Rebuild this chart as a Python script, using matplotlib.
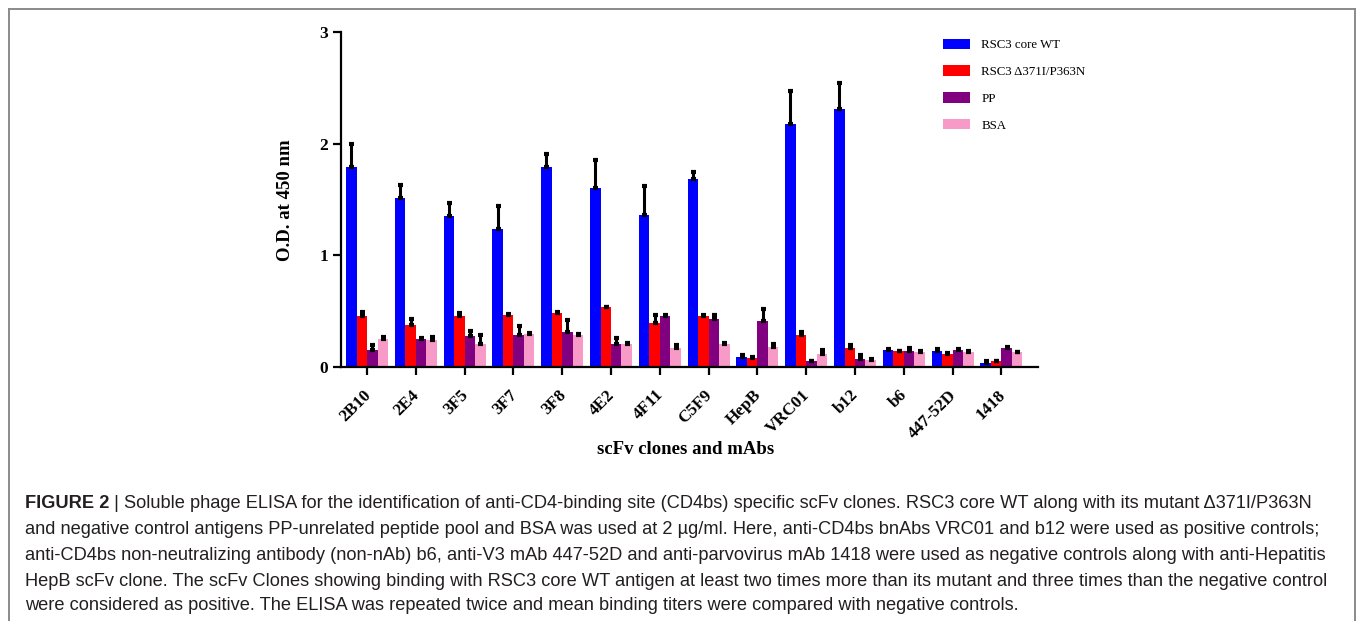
import matplotlib
matplotlib.use("Agg")
import matplotlib.pyplot as plt
import numpy as np
from matplotlib.lines import Line2D
from matplotlib.patches import Patch
import matplotlib.transforms as mtransforms

categories = ["2B10", "2E4", "3F5", "3F7", "3F8", "4E2", "4F11", "C5F9",
              "HepB", "VRC01", "b12", "b6", "447-52D", "1418"]
series_names = ["RSC3 core WT", "RSC3 \u0394371I/P363N", "PP", "BSA"]
wt = [1.79, 1.51, 1.35, 1.24, 1.79, 1.60, 1.36, 1.68, 0.09, 2.18, 2.31, 0.15, 0.14, 0.04]
wt_err = [0.21, 0.12, 0.12, 0.20, 0.12, 0.25, 0.26, 0.07, 0.015, 0.29, 0.23, 0.01, 0.025, 0.01]
mut = [0.46, 0.38, 0.455, 0.47, 0.485, 0.535, 0.39, 0.455, 0.083, 0.29, 0.17, 0.14, 0.12, 0.05]
mut_err = [0.03, 0.05, 0.03, 0.005, 0.005, 0.005, 0.08, 0.015, 0.005, 0.02, 0.03, 0.005, 0.005, 0.005]
pp = [0.155, 0.25, 0.28, 0.29, 0.31, 0.21, 0.46, 0.43, 0.41, 0.05, 0.07, 0.14, 0.155, 0.17]
pp_err = [0.045, 0.01, 0.04, 0.08, 0.11, 0.05, 0.01, 0.04, 0.105, 0.005, 0.04, 0.03, 0.01, 0.005]
bsa = [0.25, 0.245, 0.21, 0.30, 0.29, 0.21, 0.17, 0.21, 0.18, 0.12, 0.06, 0.13, 0.135, 0.13]
bsa_err = [0.02, 0.025, 0.08, 0.005, 0.005, 0.005, 0.03, 0.005, 0.03, 0.035, 0.01, 0.01, 0.005, 0.005]
y_ticks = [0, 1, 2, 3]

caption_head = "FIGURE 2"
caption_lines = [
    " | Soluble phage ELISA for the identification of anti-CD4-binding site (CD4bs) specific scFv clones. RSC3 core WT along with its mutant \u0394371I/P363N",
    "and negative control antigens PP-unrelated peptide pool and BSA was used at 2 \u00b5g/ml. Here, anti-CD4bs bnAbs VRC01 and b12 were used as positive controls;",
    "anti-CD4bs non-neutralizing antibody (non-nAb) b6, anti-V3 mAb 447-52D and anti-parvovirus mAb 1418 were used as negative controls along with anti-Hepatitis",
    "HepB scFv clone. The scFv Clones showing binding with RSC3 core WT antigen at least two times more than its mutant and three times than the negative control",
    "were considered as positive. The ELISA was repeated twice and mean binding titers were compared with negative controls.",
]

colors = ["#0000FF", "#FF0000", "#800080", "#F79AC8"]
W, H = 1357, 621
fig = plt.figure(figsize=(W / 100, H / 100), dpi=100)
serif = ["Liberation Serif", "DejaVu Serif"]
capfont = ["Liberation Sans Narrow", "Liberation Sans", "DejaVu Sans"]

ax = fig.add_axes([341 / W, 1 - 367 / H, (1038 - 341) / W, (367 - 32) / H])
x = np.arange(len(categories))
bw = 0.215
data = [(wt, wt_err), (mut, mut_err), (pp, pp_err), (bsa, bsa_err)]
for k, (vals, errs) in enumerate(data):
    pos = x + (k - 1.5) * bw
    ax.bar(pos, vals, width=bw, color=colors[k], edgecolor="none", zorder=2)
    _, caps, _ = ax.errorbar(pos, vals, yerr=[np.zeros(len(vals)), errs], fmt="none",
                             ecolor="black", elinewidth=2.2, capsize=1.8, capthick=3.0, zorder=3)

ax.set_xlim(-0.533, 13.75)
ax.set_ylim(0, 3)
ax.set_yticks(y_ticks)
ax.set_yticklabels([str(t) for t in y_ticks], fontfamily=serif, fontweight="bold", fontsize=12.5)
ax.set_xticks(x)
ax.set_xticklabels([])
off = mtransforms.ScaledTranslation(7 / 100, -20 / 100, fig.dpi_scale_trans)
xtr = ax.get_xaxis_transform() + off
for i, name in enumerate(categories):
    ax.text(x[i], 0, name, rotation=45, ha="right", va="top", transform=xtr,
            fontfamily=serif, fontweight="bold", fontsize=12.3, clip_on=False)
for s in ["top", "right"]:
    ax.spines[s].set_visible(False)
for s in ["left", "bottom"]:
    ax.spines[s].set_linewidth(1.6)
ax.tick_params(axis="both", width=1.6, length=6, color="black")
ax.tick_params(axis="y", pad=3)

fig.text(285 / W, 1 - 200 / H, "O.D. at 450 nm", rotation=90, ha="center", va="center",
         fontfamily=serif, fontweight="bold", fontsize=13.5)
fig.text(686 / W, 1 - 449 / H, "scFv clones and mAbs", ha="center", va="center",
         fontfamily=serif, fontweight="bold", fontsize=13.5)

handles = [Patch(facecolor=c, edgecolor="none") for c in colors]
fig.legend(handles, series_names, loc="upper left", bbox_to_anchor=(931 / W, 1 - 27 / H),
           frameon=False, prop={"family": serif, "size": 9.3},
           handlelength=2.15, handleheight=0.85, labelspacing=1.1, handletextpad=0.85)

# caption box
fig.add_artist(Line2D([9 / W, 9 / W], [0, 1 - 9 / H], color="#8a8a8a", lw=1.4))
fig.add_artist(Line2D([1355 / W, 1355 / W], [0, 1 - 9 / H], color="#8a8a8a", lw=1.4))
fig.add_artist(Line2D([9 / W, 1355 / W], [1 - 9 / H, 1 - 9 / H], color="#8a8a8a", lw=1.4))

# caption text
capsize = 13.12
ys = [503, 529, 555, 581, 606]
head = fig.text(25 / W, 1 - ys[0] / H, caption_head, ha="left", va="center",
                fontfamily=capfont, fontweight="bold", fontsize=capsize, color="#231F20")
fig.canvas.draw()
bb = head.get_window_extent()
fig.text(bb.x1 / W, 1 - ys[0] / H, caption_lines[0], ha="left", va="center",
         fontfamily=capfont, fontsize=capsize, color="#231F20")
for yy, line in zip(ys[1:], caption_lines[1:]):
    fig.text(25 / W, 1 - yy / H, line, ha="left", va="center",
             fontfamily=capfont, fontsize=capsize, color="#231F20")

fig.savefig("out.png", dpi=100)
